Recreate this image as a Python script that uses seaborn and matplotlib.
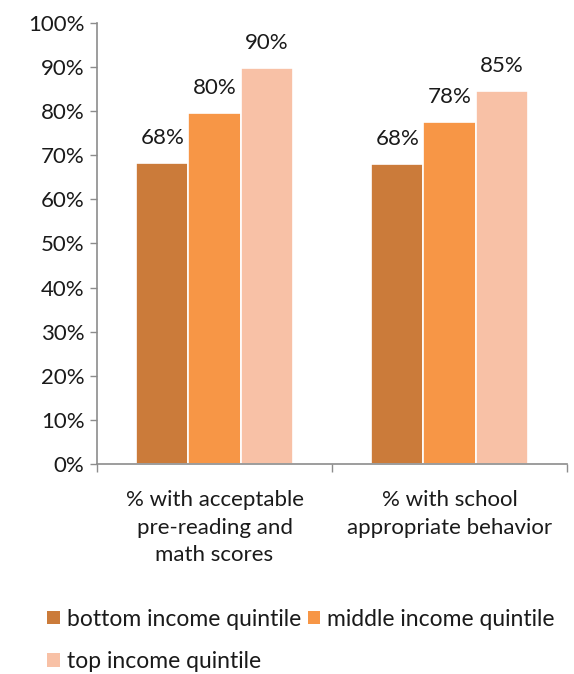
import matplotlib
matplotlib.use("Agg")
import matplotlib.pyplot as plt
import seaborn as sns
import pandas as pd
from matplotlib.patches import Patch
from matplotlib.ticker import FixedLocator, PercentFormatter

categories = ["% with acceptable\npre-reading and\nmath scores",
              "% with school\nappropriate behavior"]
quintiles = ["bottom income quintile", "middle income quintile", "top income quintile"]
bottom_vals = [68.3, 68.0]
middle_vals = [79.6, 77.5]
top_vals = [89.8, 84.6]
colors = ["#CB7B3A", "#F79646", "#F8C1A6"]

rows = []
for q, vals in zip(quintiles, [bottom_vals, middle_vals, top_vals]):
    for c, v in zip(categories, vals):
        rows.append({"category": c, "quintile": q, "value": v})
df = pd.DataFrame(rows)

sns.set_theme(style="white")
plt.rcParams["font.family"] = ["Lato", "DejaVu Sans"]
text_color = "#1a1a1a"
axis_color = "#8c8c8c"
fs = 16

fig = plt.figure(figsize=(5.74, 6.74), dpi=100)
ax = fig.add_axes([0.169, 0.3116, 0.819, 0.6543])

sns.barplot(data=df, x="category", y="value", hue="quintile",
            order=categories, hue_order=quintiles, palette=colors,
            width=0.667, edgecolor="white", linewidth=1.2,
            saturation=1, legend=False, ax=ax)

for cont in ax.containers:
    ax.bar_label(cont, labels=[f"{round(v):d}%" for v in cont.datavalues],
                 padding=11, fontsize=fs, color=text_color)

ax.set_ylim(0, 100)
ax.set_xlim(-0.5, 1.5)
ax.set_yticks(range(0, 101, 10))
ax.yaxis.set_major_formatter(PercentFormatter(decimals=0))
ax.set_xlabel("")
ax.set_ylabel("")

ax.tick_params(axis="y", direction="out", length=5, width=1, color=axis_color,
               labelsize=fs, labelcolor=text_color, pad=4, left=True)
ax.tick_params(axis="x", which="major", length=0, labelsize=fs,
               labelcolor=text_color, pad=19)
ax.xaxis.set_minor_locator(FixedLocator([-0.5, 0.5, 1.5]))
ax.tick_params(axis="x", which="minor", direction="out", length=6, width=1,
               color=axis_color, bottom=True)
for lbl in ax.get_xticklabels():
    lbl.set_horizontalalignment("center")
    lbl.set_multialignment("center")
    lbl.set_linespacing(1.45)

for side in ["top", "right"]:
    ax.spines[side].set_visible(False)
for side in ["left", "bottom"]:
    ax.spines[side].set_color(axis_color)
    ax.spines[side].set_linewidth(1.2)

# legend laid out row by row: bottom, middle on first row, top on second
handles = [Patch(facecolor=c, edgecolor="none") for c in colors]
order = [0, 2, 1]
fig.legend([handles[i] for i in order], [quintiles[i] for i in order],
           loc="upper left", bbox_to_anchor=(0.082, 0.097), ncol=2,
           frameon=False, fontsize=16.5, handlelength=0.55, handleheight=0.55,
           handletextpad=0.3, columnspacing=0.3, labelspacing=0.95,
           labelcolor=text_color, borderaxespad=0, borderpad=0)

fig.savefig("out.png", dpi=100)
